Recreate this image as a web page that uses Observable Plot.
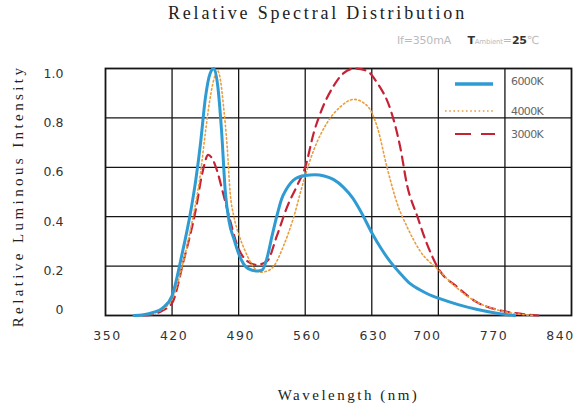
<!DOCTYPE html>
<html>
<head>
<meta charset="utf-8">
<script src="https://cdn.jsdelivr.net/npm/d3@7"></script>
<script src="https://cdn.jsdelivr.net/npm/@observablehq/plot@0.6"></script>
<style>
  html, body { margin: 0; padding: 0; background: #fff; }
  #wrap { position: relative; width: 579px; height: 412px; overflow: hidden; background: #fff; }
  #title { position: absolute; left: 168px; top: 3px; font-family: "Liberation Serif", "DejaVu Serif", serif; font-size: 18px; letter-spacing: 2.8px; color: #222; white-space: nowrap; }
  #sub { position: absolute; left: 397px; top: 34px; font-family: "DejaVu Sans", sans-serif; font-size: 11px; color: #bbb; white-space: nowrap; letter-spacing: -0.2px; }
  #sub b { color: #333; }
  #sub .sm { font-size: 7px; }
  #chart { position: absolute; left: 0; top: 50px; }
  #legend { position: absolute; left: 440px; top: 70px; }
  [aria-label="x-axis tick label"] text { letter-spacing: 1.5px; }
</style>
</head>
<body>
<div id="wrap">
  <div id="title">Relative Spectral Distribution</div>
  <div id="sub">If=350mA&nbsp;&nbsp;&nbsp;&nbsp; <b>T</b><span class="sm">Ambient</span>=<b>25</b>℃</div>
  <div id="chart"></div>
  <svg id="legend" width="139" height="80"></svg>
</div>
<script>
// ---- data ----
const wl6000 = [380,390,400,410,420,430,440,445,450,455,460,464,468,472,476,480,485,490,495,500,510,515,520,525,530,535,540,550,560,570,580,590,600,610,620,630,640,650,660,670,680,690,700,720,740,760,780];
const v6000  = [0,0.003,0.012,0.03,0.08,0.24,0.43,0.55,0.70,0.88,0.98,1.0,0.93,0.75,0.50,0.38,0.31,0.25,0.21,0.19,0.18,0.185,0.235,0.32,0.40,0.47,0.51,0.555,0.567,0.57,0.565,0.55,0.52,0.475,0.41,0.335,0.27,0.215,0.17,0.13,0.105,0.085,0.07,0.045,0.025,0.01,0];

const wl4000 = [385,395,405,415,420,430,440,450,455,460,465,468,471,474,478,481,485,490,497,505,513,520,527,537,548,558,569,583,597,611,625,636,646,657,667,681,700,720,740,760,780,800];
const v4000  = [0,0.005,0.015,0.04,0.065,0.19,0.36,0.58,0.74,0.88,0.97,0.99,0.95,0.85,0.68,0.50,0.40,0.33,0.26,0.20,0.175,0.18,0.2,0.28,0.40,0.54,0.67,0.78,0.845,0.875,0.85,0.76,0.60,0.45,0.36,0.26,0.185,0.11,0.055,0.025,0.008,0];

const wl3000 = [390,400,410,420,432,445,452,458,463,467,474,481,488,499,509,520,530,541,552,560,569,576,590,600,612,625,636,650,660,667,678,688,700,720,740,760,780,805];
const v3000  = [0,0.005,0.02,0.05,0.22,0.43,0.58,0.65,0.63,0.59,0.49,0.385,0.29,0.22,0.205,0.22,0.32,0.44,0.53,0.60,0.74,0.82,0.93,0.98,1.0,0.99,0.94,0.83,0.68,0.53,0.40,0.29,0.19,0.115,0.055,0.025,0.01,0];

const seriesNames = ["6000K", "4000K", "3000K"];
const xTicks = [350,420,490,560,630,700,770,840];
const yTicks = [0,0.2,0.4,0.6,0.8,1.0];

// ---- styles ----
const colors = {"6000K": "#2f9bd3", "4000K": "#eb9d3c", "3000K": "#c62235"};
const widths = {"6000K": 3, "4000K": 1.6, "3000K": 2.2};
const dashes = {"6000K": null, "4000K": "1.6,2.6", "3000K": "9,6"};

const toRows = (name, wl, v) => wl.map((w, i) => ({series: name, wl: w, v: v[i]}));
const tables = {
  "6000K": toRows("6000K", wl6000, v6000),
  "4000K": toRows("4000K", wl4000, v4000),
  "3000K": toRows("3000K", wl3000, v3000)
};

const gridColor = "#151515";
const tickFont = "'DejaVu Sans', sans-serif";
const serif = "'Liberation Serif', 'DejaVu Serif', serif";
const tickOpts = {tickSize: 0, fontSize: 12.5, fontFamily: tickFont, fill: "#333", label: null};

const chart = Plot.plot({
  width: 579,
  height: 362,
  marginTop: 18,
  marginBottom: 97,
  marginLeft: 105,
  marginRight: 8,
  style: {background: "#fff", overflow: "visible"},
  x: {domain: [350, 840]},
  y: {domain: [0, 1]},
  marks: [
    Plot.gridX(xTicks.slice(1, -1), {stroke: gridColor, strokeOpacity: 1, strokeWidth: 1.3}),
    Plot.gridY(yTicks.slice(1, -1), {stroke: gridColor, strokeOpacity: 1, strokeWidth: 1.3}),
    Plot.frame({stroke: gridColor, strokeWidth: 1.8}),
    ...seriesNames.slice().reverse().map(name => Plot.line(tables[name], {
      x: "wl", y: "v", stroke: colors[name], strokeWidth: widths[name],
      strokeDasharray: dashes[name], curve: "monotone-x"
    })),
    Plot.axisX(xTicks.slice(0, 5), {...tickOpts, tickPadding: 16, dx: 2}),
    Plot.axisX(xTicks.slice(5), {...tickOpts, tickPadding: 16, dx: -11}),
    Plot.axisY(yTicks.slice(1), {...tickOpts, tickPadding: 42, dy: 5, tickFormat: d => d.toFixed(1)}),
    Plot.axisY([0], {...tickOpts, tickPadding: 42, dy: -6, tickFormat: d => "0"}),
    Plot.text(["Wavelength (nm)"], {frameAnchor: "bottom", textAnchor: "middle", dy: 84, dx: 10, fontSize: 15, fontFamily: serif, fill: "#222"}),
    Plot.text(["Relative Luminous Intensity"], {frameAnchor: "left", textAnchor: "middle", dx: -87, dy: 4, rotate: -90, fontSize: 15, fontFamily: serif, fill: "#222"})
  ]
});
document.getElementById("chart").appendChild(chart);

// letter spacing for the axis titles
d3.select(chart).selectAll("text")
  .filter(function() { return this.textContent === "Wavelength (nm)"; })
  .attr("letter-spacing", "2.5px");
d3.select(chart).selectAll("text")
  .filter(function() { return this.textContent === "Relative Luminous Intensity"; })
  .attr("letter-spacing", "3.4px");

// ---- legend ----
const leg = d3.select("#legend");
const legRows = [
  {name: "6000K", y: 14, x1: 15, x2: 53, ty: 11},
  {name: "4000K", y: 41, x1: 5, x2: 55, ty: 41},
  {name: "3000K", y: 64, x1: 15, x2: 55, ty: 64}
];
legRows.forEach(r => {
  leg.append("line").attr("x1", r.x1).attr("x2", r.x2).attr("y1", r.y).attr("y2", r.y)
    .attr("stroke", colors[r.name]).attr("stroke-width", r.name === "6000K" ? 3.5 : widths[r.name])
    .attr("stroke-dasharray", r.name === "3000K" ? "16,10" : dashes[r.name]);
  leg.append("text").attr("x", 71).attr("y", r.ty).attr("dy", "0.35em")
    .attr("font-family", "'DejaVu Sans', sans-serif").attr("font-size", 11).attr("letter-spacing", "-0.6px")
    .attr("fill", "#666").text(r.name);
});
</script>
</body>
</html>
